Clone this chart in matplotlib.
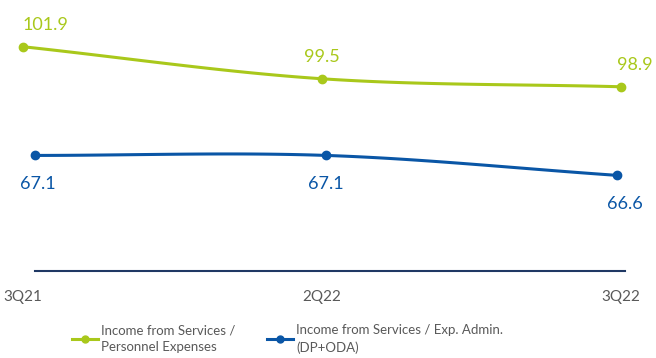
import matplotlib.pyplot as plt
import numpy as np

quarters = ['3Q21', '2Q22', '3Q22']
personnel_ratio = [101.9, 99.5, 98.9]
admin_ratio = [67.1, 67.1, 66.6]
labels = ['Income from Services /\nPersonnel Expenses',
          'Income from Services / Exp. Admin.\n(DP+ODA)']
colors = ['#A9C81B', '#0A56A6']


def smooth(x, y, n=60):
    # Catmull-Rom curve through the points (like a smoothed office line)
    x = np.asarray(x, float)
    y = np.asarray(y, float)
    px = np.concatenate([[2 * x[0] - x[1]], x, [2 * x[-1] - x[-2]]])
    py = np.concatenate([[2 * y[0] - y[1]], y, [2 * y[-1] - y[-2]]])
    xs, ys = [], []
    for i in range(1, len(px) - 2):
        t = np.linspace(0, 1, n)
        for p, out in ((px, xs), (py, ys)):
            p0, p1, p2, p3 = p[i - 1:i + 3]
            out.append(0.5 * ((2 * p1) + (-p0 + p2) * t
                              + (2 * p0 - 5 * p1 + 4 * p2 - p3) * t ** 2
                              + (-p0 + 3 * p1 - 3 * p2 + p3) * t ** 3))
    return np.concatenate(xs), np.concatenate(ys)


plt.rcParams['font.family'] = ['Lato', 'DejaVu Sans']
fig = plt.figure(figsize=(6.56, 3.58), dpi=100)

W, H = 656, 358
x = np.arange(len(quarters))

# green series axes
ax1 = fig.add_axes([23 / W, 1 - 271 / H, (621 - 23) / W, 271 / H])
# blue series axes (own scale, slightly narrower)
ax2 = fig.add_axes([35 / W, 1 - 271 / H, (617 - 35) / W, 271 / H])
ax2.patch.set_alpha(0)

ax1.set_ylim(85.1, 105.4)
ax2.set_ylim(64.2, 71.0)

for ax, vals, c in ((ax1, personnel_ratio, colors[0]), (ax2, admin_ratio, colors[1])):
    sx, sy = smooth(x, vals)
    ax.plot(sx, sy, color=c, lw=2.2, clip_on=False, solid_capstyle='round')
    ax.plot(x, vals, 'o', color=c, ms=6, clip_on=False)
    ax.set_xlim(0, 2)
    ax.set_xticks([])
    ax.set_yticks([])
    for s in ax.spines.values():
        s.set_visible(False)

# value labels
offs1 = [16, 0, 10]
for xi, v, dx in zip(x, personnel_ratio, offs1):
    ax1.annotate(f'{v:.1f}', (xi, v), xytext=(dx, 10), textcoords='offset points',
                 ha='center', va='bottom', fontsize=13, color=colors[0],
                 annotation_clip=False)
offs2 = [2, 0, 6]
for xi, v, dx in zip(x, admin_ratio, offs2):
    ax2.annotate(f'{v:.1f}', (xi, v), xytext=(dx, -15), textcoords='offset points',
                 ha='center', va='top', fontsize=13, color=colors[1],
                 annotation_clip=False)

# baseline
fig.add_artist(plt.Line2D([35 / W, 625 / W], [1 - 271 / H] * 2,
                          color='#1F3864', lw=1.5))

# category labels
for xi, q in zip(x, quarters):
    xf = 23 / W + (621 - 23) / W * xi / 2
    fig.text(xf, 1 - 297 / H, q, ha='center', va='center',
             fontsize=11, color='#595959')

handles = [plt.Line2D([], [], color=c, lw=2.2, marker='o', ms=5) for c in colors]
leg = fig.legend(handles, labels, loc='upper left', ncol=2,
                 bbox_to_anchor=(72 / W, 1 - 324 / H), frameon=False,
                 fontsize=9.5, labelcolor='#595959', handlelength=2.0,
                 handletextpad=0.2, columnspacing=2.4, borderpad=0,
                 borderaxespad=0)
for t in leg.get_texts():
    t.set_linespacing(1.5)

fig.savefig('out.png', dpi=100)
